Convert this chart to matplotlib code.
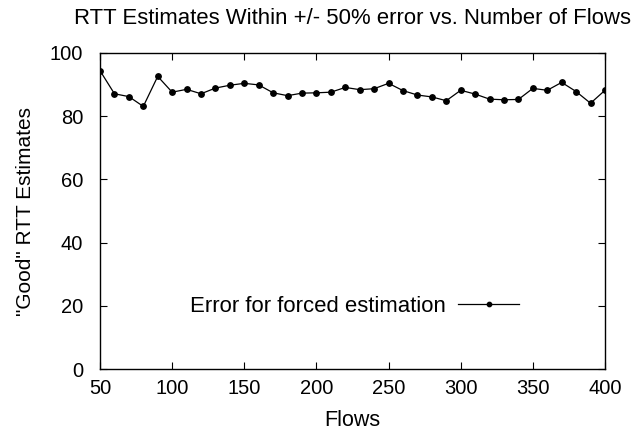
import numpy as np
import matplotlib
matplotlib.use("Agg")
import matplotlib.pyplot as plt

plt.rcParams['font.family'] = ['Liberation Sans', 'DejaVu Sans']

flows = list(range(50, 401, 10))
good = [94.4, 87.1, 86.2, 83.1, 92.6, 87.6, 88.5, 87.1, 88.9, 89.8,
        90.4, 89.9, 87.4, 86.5, 87.3, 87.4, 87.6, 89.1, 88.4, 88.7,
        90.4, 88.1, 86.7, 86.1, 84.9, 88.2, 87.0, 85.4, 85.2, 85.3,
        88.8, 88.2, 90.7, 87.8, 84.1, 88.2]

fig = plt.figure(figsize=(6.44, 4.33), dpi=100)
ax = fig.add_axes([0.1553, 0.1478, 0.7841, 0.7298])

ax.plot(flows, good, color='black', lw=0.9, marker='o', ms=3.9,
        label='Error for forced estimation')

ax.set_xlim(50, 400)
ax.set_ylim(0, 100)
ax.set_xticks(range(50, 401, 50))
ax.set_yticks(range(0, 101, 20))
ax.tick_params(direction='in', top=True, right=True, length=5, width=0.8,
               labelsize=14.5)
ax.tick_params(axis='y', pad=12)
ax.tick_params(axis='x', pad=7)
for s in ax.spines.values():
    s.set_linewidth(1.0)

ax.set_xlabel('Flows', fontsize=15.5, labelpad=9)
ax.set_ylabel('"Good" RTT Estimates', fontsize=15, labelpad=11)
fig.text(0.547, 0.958, 'RTT Estimates Within +/- 50% error vs. Number of Flows',
         ha='center', va='center', fontsize=15.9)

leg = ax.legend(loc='lower right', bbox_to_anchor=(0.869, 0.101), frameon=False,
                markerfirst=False, fontsize=15.9, handlelength=2.75,
                handletextpad=0.55, markerscale=0.8)

fig.savefig('out.png', dpi=100)
